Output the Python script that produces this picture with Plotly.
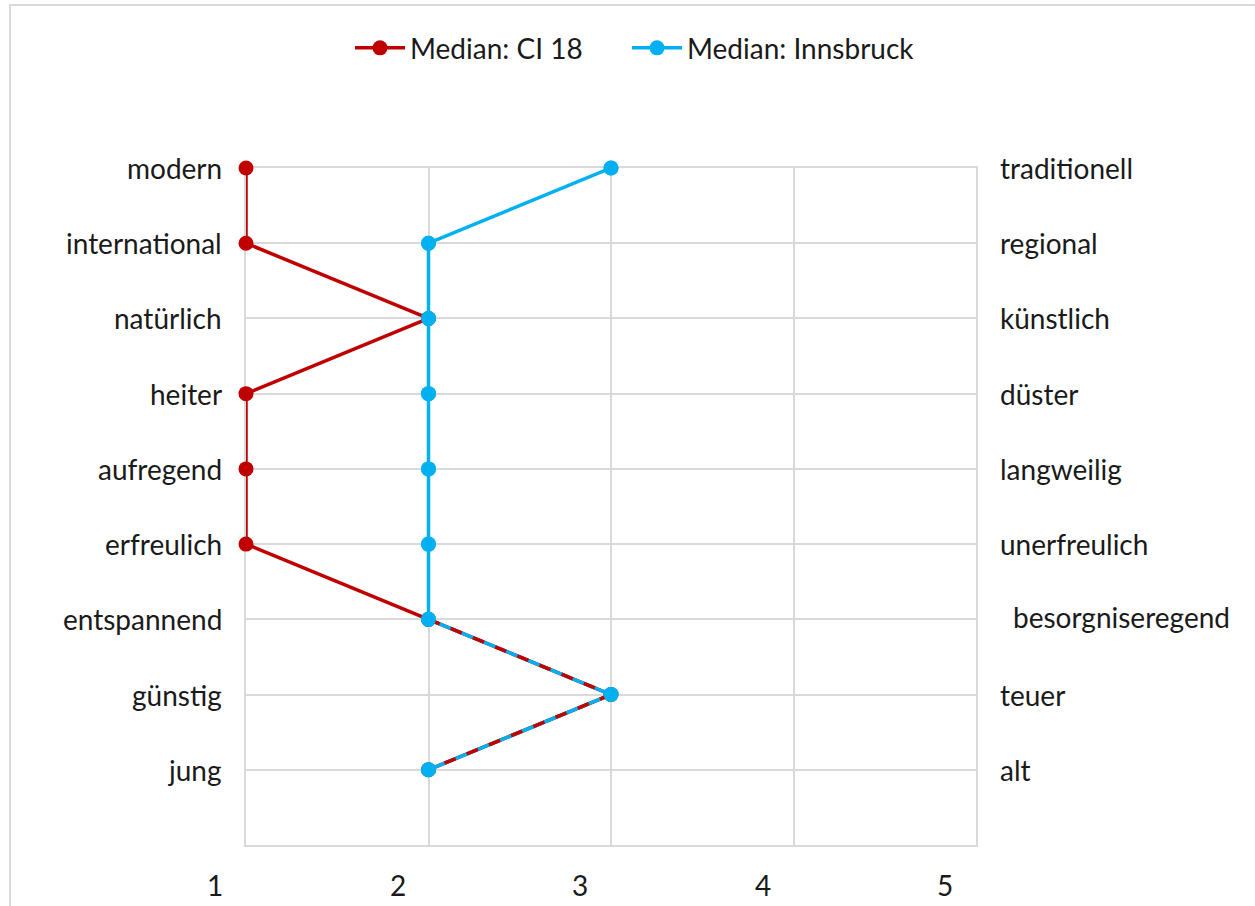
import plotly.graph_objects as go

# Semantic differential: left pole, right pole, medians per scale (1 = left, 5 = right)
left_poles = ["modern", "international", "natürlich", "heiter", "aufregend",
              "erfreulich", "entspannend", "günstig", "jung"]
right_poles = ["traditionell", "regional", "künstlich", "düster", "langweilig",
               "unerfreulich", "besorgniseregend", "teuer", "alt"]
median_ci18 = [1, 1, 2, 1, 1, 1, 2, 3, 2]
median_innsbruck = [3, 2, 2, 2, 2, 2, 2, 3, 2]
x_ticks = [1, 2, 3, 4, 5]

RED = "#C00000"
BLUE = "#00B0F0"
GRID = "#D9D9D9"
TEXT = "#1A1A1A"
FONT = "Lato"
FS = 28
LW = 3.5
MS = 15

n = len(left_poles)
# top row gets the highest position, bottom slot (0) stays empty
rows = [n - i for i in range(n)]

fig = go.Figure()

fig.add_trace(go.Scatter(
    x=median_ci18, y=rows, mode="lines+markers", name="Median: CI 18",
    line=dict(color=RED, width=LW), marker=dict(color=RED, size=MS),
    cliponaxis=False, legendwidth=212,
))
fig.add_trace(go.Scatter(
    x=median_innsbruck, y=rows, mode="lines+markers", name="Median: Innsbruck",
    line=dict(color=BLUE, width=LW), marker=dict(color=BLUE, size=MS),
    cliponaxis=False, legendwidth=250,
))

# segments where both series coincide: red dashes over the blue line
for i in range(n - 1):
    if median_ci18[i] == median_innsbruck[i] and median_ci18[i + 1] == median_innsbruck[i + 1]:
        fig.add_trace(go.Scatter(
            x=[median_ci18[i], median_ci18[i + 1]], y=[rows[i], rows[i + 1]],
            mode="lines", showlegend=False, hoverinfo="skip",
            line=dict(color=RED, width=LW, dash="12px,12px"),
            cliponaxis=False,
        ))

# blue markers back on top
fig.add_trace(go.Scatter(
    x=median_innsbruck, y=rows, mode="markers", showlegend=False,
    marker=dict(color=BLUE, size=MS), cliponaxis=False, hoverinfo="skip",
))

annotations = []
for label, r in zip(left_poles, rows):
    annotations.append(dict(
        x=0, xref="paper", y=r, yref="y", text=label, showarrow=False,
        xanchor="right", yanchor="middle", xshift=-22,
        font=dict(family=FONT, size=FS, color=TEXT),
    ))
for label, r in zip(right_poles, rows):
    shift = 35 if label == "besorgniseregend" else 22
    annotations.append(dict(
        x=1, xref="paper", y=r, yref="y", text=label, showarrow=False,
        xanchor="left", yanchor="middle", xshift=shift,
        yshift=2 if label == "besorgniseregend" else 0,
        font=dict(family=FONT, size=FS, color=TEXT),
    ))
for t in x_ticks:
    annotations.append(dict(
        x=t, xref="x", y=0, yref="paper", text=str(t), showarrow=False,
        xanchor="center", yanchor="middle", xshift=-31, yshift=-40,
        font=dict(family=FONT, size=FS, color=TEXT),
    ))

shapes = [
    # chart frame
    dict(type="rect", xref="paper", yref="paper",
         x0=-0.3233, x1=1.6, y0=1.2408, y1=-0.3,
         line=dict(color=GRID, width=2), layer="below"),
    # leader line for the offset right-hand label
    dict(type="line", xref="x", yref="y", xsizemode="pixel", ysizemode="pixel",
         xanchor=5, yanchor=rows[right_poles.index("besorgniseregend")],
         x0=1, x1=17, y0=-1, y1=2,
         line=dict(color="#A6A6A6", width=1.5)),
]

fig.update_layout(
    width=1255, height=906,
    margin=dict(l=246, r=279, t=168, b=61),
    paper_bgcolor="white", plot_bgcolor="white",
    font=dict(family=FONT, size=FS, color=TEXT),
    showlegend=True,
    legend=dict(
        orientation="h", x=0.1425, xanchor="left", y=1.177, yanchor="middle",
        font=dict(family=FONT, size=FS, color=TEXT),
        bgcolor="rgba(0,0,0,0)", itemwidth=50,
    ),
    xaxis=dict(
        range=[1, 5], tickvals=x_ticks, showticklabels=False,
        showgrid=True, gridcolor=GRID, gridwidth=1.5,
        showline=True, mirror=True, linecolor=GRID, linewidth=1.5,
        zeroline=False, fixedrange=True, layer="below traces",
    ),
    yaxis=dict(
        range=[0, n], tickvals=list(range(0, n + 1)), showticklabels=False,
        showgrid=True, gridcolor=GRID, gridwidth=1.5,
        showline=True, mirror=True, linecolor=GRID, linewidth=1.5,
        zeroline=False, fixedrange=True, layer="below traces",
    ),
    annotations=annotations,
    shapes=shapes,
)

fig.write_html("out.html")
